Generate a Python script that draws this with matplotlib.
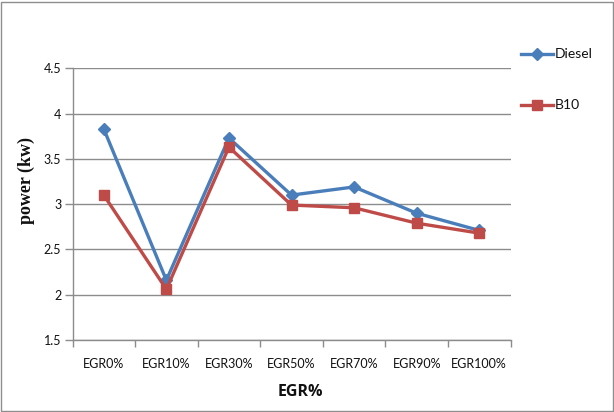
import matplotlib
matplotlib.use("Agg")
import matplotlib.pyplot as plt
from matplotlib.patches import Rectangle
from matplotlib.lines import Line2D

categories = ["EGR0%", "EGR10%", "EGR30%", "EGR50%", "EGR70%", "EGR90%", "EGR100%"]
diesel = [3.83, 2.16, 3.73, 3.10, 3.19, 2.90, 2.71]
b10 = [3.10, 2.06, 3.63, 2.99, 2.96, 2.79, 2.68]
series_names = ["Diesel", "B10"]
y_ticks = [1.5, 2, 2.5, 3, 3.5, 4, 4.5]
y_tick_labels = ["1.5", "2", "2.5", "3", "3.5", "4", "4.5"]

blue = "#4A7EBB"
red = "#BE4B48"
grid_gray = "#8C8C8C"
sans = ["Lato", "DejaVu Sans"]
lw = 2.4

W, H = 614, 412
fig = plt.figure(figsize=(W / 100, H / 100), dpi=100)

def fx(px):
    return px / W

def fy(py):
    return 1 - py / H

# outer chart frame
fig.patches.append(Rectangle((1.5 / W, 1.5 / H), (W - 3) / W, (H - 3) / H,
                             transform=fig.transFigure, fill=False,
                             edgecolor="#8E8E8E", linewidth=1.0))

left, right, top, bottom = 72.5, 510.5, 68.3, 340.0
ax = fig.add_axes([fx(left), fy(bottom), (right - left) / W, (bottom - top) / H])

x = list(range(len(categories)))
ax.plot(x, diesel, color=blue, linewidth=lw, marker="D", markersize=6.5,
        markeredgecolor=blue, markerfacecolor=blue, zorder=3)
ax.plot(x, b10, color=red, linewidth=lw, marker="s", markersize=7.5,
        markeredgecolor=red, markerfacecolor=red, zorder=4)

ax.set_xlim(-0.5, len(categories) - 0.5)
ax.set_ylim(1.5, 4.5)
ax.set_yticks(y_ticks)
ax.set_yticklabels(y_tick_labels, fontfamily=sans, fontsize=9, color="#111111")
ax.yaxis.grid(True, color=grid_gray, linewidth=1.0)
ax.set_axisbelow(True)

ax.set_xticks(x)
ax.set_xticklabels(categories, fontfamily=sans, fontsize=9, color="#111111")
ax.set_xticks([i - 0.5 for i in range(len(categories) + 1)], minor=True)
ax.tick_params(axis="x", which="major", length=0, pad=13)
ax.tick_params(axis="x", which="minor", length=5, color=grid_gray, width=1.0)
ax.tick_params(axis="y", length=6, color=grid_gray, width=1.0, pad=2)

for side in ["top", "right"]:
    ax.spines[side].set_visible(False)
for side in ["left", "bottom"]:
    ax.spines[side].set_color(grid_gray)
    ax.spines[side].set_linewidth(1.0)

# axis titles
fig.text(fx(300), fy(392), "EGR%", fontfamily=["Open Sans", "DejaVu Sans"],
         fontweight="bold", fontsize=11.5, ha="center", va="center", color="#111111")
fig.text(fx(26), fy(180), "power (kw)", fontfamily="Liberation Serif",
         fontweight="bold", fontsize=13, rotation=90, ha="center",
         va="center", color="#111111")

# legend entries
legend_rows = [(54, blue, "D", 6.5), (105, red, "s", 7.5)]
for name, (ly, color, mk, ms) in zip(series_names, legend_rows):
    fig.add_artist(Line2D([fx(520.5), fx(553)], [fy(ly), fy(ly)],
                          transform=fig.transFigure, color=color, linewidth=lw))
    fig.add_artist(Line2D([fx(537)], [fy(ly)], transform=fig.transFigure,
                          color=color, marker=mk, markersize=ms, linestyle="none"))
    fig.text(fx(555), fy(ly), name, fontfamily=sans, fontsize=10,
             ha="left", va="center", color="#111111")

fig.savefig("out.png", dpi=100)
